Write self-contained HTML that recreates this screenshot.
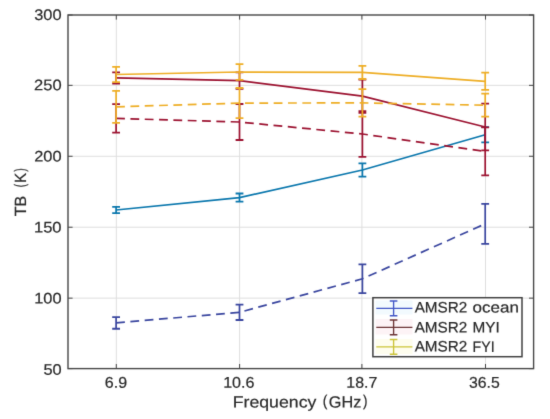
<!DOCTYPE html><html><head><meta charset="utf-8"><style>html,body{margin:0;padding:0;background:#fff;}svg{display:block;}text{font-family:"Liberation Sans",sans-serif;fill:#2a2a2a;stroke:#2a2a2a;stroke-width:0.2;}</style></head><body>
<svg width="550" height="419" viewBox="0 0 550 419" text-rendering="geometricPrecision">
<defs><filter id="soft" filterUnits="userSpaceOnUse" x="0" y="0" width="550" height="419" color-interpolation-filters="sRGB"><feConvolveMatrix order="3" kernelMatrix="0.0100 0.0800 0.0100 0.0800 0.6400 0.0800 0.0100 0.0800 0.0100" edgeMode="duplicate"/></filter></defs><g filter="url(#soft)">
<rect width="550" height="419" fill="#fff"/>
<path d="M116.30 15.00V368.60M239.60 15.00V368.60M361.90 15.00V368.60M485.50 15.00V368.60M68.00 298.15H533.60M68.00 227.22H533.60M68.00 156.28H533.60M68.00 85.35H533.60" stroke="#dedede" stroke-width="1" fill="none"/>
<polyline points="116.10,210.00 239.50,197.60 362.40,170.00 485.20,134.80" stroke="#0a77ad" stroke-width="1.70" fill="none"/>
<path d="M116.10 206.80V213.20M239.50 193.50V201.70M362.40 163.30V176.70M485.20 127.20V142.40" stroke="#0a77ad" stroke-width="1.70" fill="none"/>
<path d="M112.20 206.80H120.00M112.20 213.20H120.00M235.60 193.50H243.40M235.60 201.70H243.40M358.50 163.30H366.30M358.50 176.70H366.30M481.30 127.20H489.10M481.30 142.40H489.10" stroke="#0a77ad" stroke-width="1.80" fill="none"/>
<polyline points="116.10,77.90 239.50,80.60 362.40,96.20 485.20,127.00" stroke="#9c1230" stroke-width="1.70" fill="none"/>
<path d="M116.10 72.30V83.50M239.50 72.40V88.80M362.40 79.60V112.80M485.20 103.70V150.30" stroke="#9c1230" stroke-width="1.70" fill="none"/>
<path d="M112.20 72.30H120.00M112.20 83.50H120.00M235.60 72.40H243.40M235.60 88.80H243.40M358.50 79.60H366.30M358.50 112.80H366.30M481.30 103.70H489.10M481.30 150.30H489.10" stroke="#9c1230" stroke-width="1.80" fill="none"/>
<polyline points="116.10,74.50 239.50,72.00 362.40,72.40 485.20,81.30" stroke="#eeae26" stroke-width="1.70" fill="none"/>
<path d="M116.10 66.90V82.10M239.50 64.10V79.90M362.40 65.80V79.00M485.20 72.70V89.90" stroke="#eeae26" stroke-width="1.70" fill="none"/>
<path d="M112.20 66.90H120.00M112.20 82.10H120.00M235.60 64.10H243.40M235.60 79.90H243.40M358.50 65.80H366.30M358.50 79.00H366.30M481.30 72.70H489.10M481.30 89.90H489.10" stroke="#eeae26" stroke-width="1.80" fill="none"/>
<polyline points="116.10,322.90 239.50,312.30 362.40,278.80 485.20,223.80" stroke="#3a469f" stroke-width="1.70" fill="none" stroke-dasharray="8.8 5.53"/>
<path d="M116.10 317.05V328.75M239.50 304.60V320.00M362.40 264.40V293.20M485.20 203.80V243.80" stroke="#3a469f" stroke-width="1.70" fill="none"/>
<path d="M112.20 317.05H120.00M112.20 328.75H120.00M235.60 304.60H243.40M235.60 320.00H243.40M358.50 264.40H366.30M358.50 293.20H366.30M481.30 203.80H489.10M481.30 243.80H489.10" stroke="#3a469f" stroke-width="1.80" fill="none"/>
<polyline points="116.10,118.40 239.50,122.00 362.40,134.00 485.20,151.40" stroke="#9c1230" stroke-width="1.70" fill="none" stroke-dasharray="8.8 5.53"/>
<path d="M116.10 104.10V132.70M239.50 104.00V140.00M362.40 111.10V156.90M485.20 127.40V175.40" stroke="#9c1230" stroke-width="1.70" fill="none"/>
<path d="M112.20 104.10H120.00M112.20 132.70H120.00M235.60 104.00H243.40M235.60 140.00H243.40M358.50 111.10H366.30M358.50 156.90H366.30M481.30 127.40H489.10M481.30 175.40H489.10" stroke="#9c1230" stroke-width="1.80" fill="none"/>
<polyline points="116.10,106.80 239.50,103.10 362.40,102.90 485.20,105.20" stroke="#eeae26" stroke-width="1.70" fill="none" stroke-dasharray="8.8 5.53"/>
<path d="M116.10 90.80V122.80M239.50 88.00V118.20M362.40 89.20V116.60M485.20 93.70V116.70" stroke="#eeae26" stroke-width="1.70" fill="none"/>
<path d="M112.20 90.80H120.00M112.20 122.80H120.00M235.60 88.00H243.40M235.60 118.20H243.40M358.50 89.20H366.30M358.50 116.60H366.30M481.30 93.70H489.10M481.30 116.70H489.10" stroke="#eeae26" stroke-width="1.80" fill="none"/>
<path d="M116.30 368.60V364.00M116.30 15.00V19.60M239.60 368.60V364.00M239.60 15.00V19.60M361.90 368.60V364.00M361.90 15.00V19.60M485.50 368.60V364.00M485.50 15.00V19.60M68.00 368.60H72.60M533.60 368.60H529.00M68.00 298.15H72.60M533.60 298.15H529.00M68.00 227.22H72.60M533.60 227.22H529.00M68.00 156.28H72.60M533.60 156.28H529.00M68.00 85.35H72.60M533.60 85.35H529.00M68.00 15.00H72.60M533.60 15.00H529.00" stroke="#464646" stroke-width="1" fill="none"/>
<rect x="68.00" y="15.00" width="465.60" height="353.60" stroke="#464646" stroke-width="1.4" fill="none"/>
<text transform="translate(34.19 19.90) matrix(1 0.0005 0 1 0 0)" font-size="15.35" textLength="27.39" lengthAdjust="spacingAndGlyphs">300</text>
<text transform="translate(34.02 90.30) matrix(1 0.0005 0 1 0 0)" font-size="15.35" textLength="27.56" lengthAdjust="spacingAndGlyphs">250</text>
<text transform="translate(34.23 161.60) matrix(1 0.0005 0 1 0 0)" font-size="15.35" textLength="27.35" lengthAdjust="spacingAndGlyphs">200</text>
<text transform="translate(33.92 232.40) matrix(1 0.0005 0 1 0 0)" font-size="15.35" textLength="27.67" lengthAdjust="spacingAndGlyphs">150</text>
<text transform="translate(34.24 303.60) matrix(1 0.0005 0 1 0 0)" font-size="15.35" textLength="27.34" lengthAdjust="spacingAndGlyphs">100</text>
<text transform="translate(43.39 374.70) matrix(1 0.0005 0 1 0 0)" font-size="15.35" textLength="18.25" lengthAdjust="spacingAndGlyphs">50</text>
<text transform="translate(104.85 387.85) matrix(1 0.0005 0 1 0 0)" font-size="15.49" textLength="22.31" lengthAdjust="spacingAndGlyphs">6.9</text>
<text transform="translate(223.16 387.85) matrix(1 0.0005 0 1 0 0)" font-size="15.49" textLength="31.34" lengthAdjust="spacingAndGlyphs">10.6</text>
<text transform="translate(346.28 387.85) matrix(1 0.0005 0 1 0 0)" font-size="15.49" textLength="31.01" lengthAdjust="spacingAndGlyphs">18.7</text>
<text transform="translate(468.92 387.85) matrix(1 0.0005 0 1 0 0)" font-size="15.49" textLength="30.77" lengthAdjust="spacingAndGlyphs">36.5</text>
<text transform="translate(232.73 407.50) matrix(1 0.0005 0 1 0 0)" font-size="16.20" textLength="83.60" lengthAdjust="spacingAndGlyphs">Frequency</text>
<text transform="translate(322.82 406.40) matrix(1 0.0005 0 1 0 0)" font-size="15.48" textLength="4.61" lengthAdjust="spacingAndGlyphs">(</text>
<text transform="translate(328.74 407.50) matrix(1 0.0005 0 1 0 0)" font-size="16.20" textLength="32.53" lengthAdjust="spacingAndGlyphs">GHz</text>
<text transform="translate(362.92 406.40) matrix(1 0.0005 0 1 0 0)" font-size="15.48" textLength="4.48" lengthAdjust="spacingAndGlyphs">)</text>
<text transform="rotate(-90) translate(-216.37 25.95) matrix(1 0.0005 0 1 0 0)" font-size="16.20" textLength="20.55" lengthAdjust="spacingAndGlyphs">TB</text>
<text transform="rotate(-90) translate(-187.35 24.94) matrix(1 0.0005 0 1 0 0)" font-size="15.27" textLength="3.33" lengthAdjust="spacingAndGlyphs">(</text>
<text transform="rotate(-90) translate(-182.89 25.95) matrix(1 0.0005 0 1 0 0)" font-size="16.20" textLength="10.30" lengthAdjust="spacingAndGlyphs">K</text>
<text transform="rotate(-90) translate(-171.75 24.94) matrix(1 0.0005 0 1 0 0)" font-size="15.27" textLength="3.46" lengthAdjust="spacingAndGlyphs">)</text>
<rect x="372.90" y="297.70" width="149.10" height="59.00" fill="#fff" stroke="#404040" stroke-width="1.5"/>
<rect x="375.5" y="300.5" width="37" height="14" fill="#f2fafe"/><rect x="375.5" y="319" width="37" height="15.5" fill="#fdf3f6"/><rect x="375.5" y="339" width="37" height="15" fill="#fefdee"/>
<path d="M376.3 308.30H412.4M393.6 300.90V315.70" stroke="#4256c6" stroke-width="1.35" fill="none"/>
<path d="M389.8 300.90H397.4M389.8 315.70H397.4" stroke="#4256c6" stroke-width="1.50" fill="none"/>
<text transform="translate(414.65 312.45) matrix(1 0.0005 0 1 0 0)" font-size="15.20" textLength="52.69" lengthAdjust="spacingAndGlyphs">AMSR2</text>
<text transform="translate(472.57 312.45) matrix(1 0.0005 0 1 0 0)" font-size="15.20" textLength="46.38" lengthAdjust="spacingAndGlyphs">ocean</text>
<path d="M376.3 327.40H412.4M393.6 320.00V334.80" stroke="#6c3536" stroke-width="1.35" fill="none"/>
<path d="M389.8 320.00H397.4M389.8 334.80H397.4" stroke="#6c3536" stroke-width="1.50" fill="none"/>
<text transform="translate(414.65 332.45) matrix(1 0.0005 0 1 0 0)" font-size="15.20" textLength="52.69" lengthAdjust="spacingAndGlyphs">AMSR2</text>
<text transform="translate(472.42 332.45) matrix(1 0.0005 0 1 0 0)" font-size="15.20" textLength="27.28" lengthAdjust="spacingAndGlyphs">MYI</text>
<path d="M376.3 346.80H412.4M393.6 339.40V354.20" stroke="#cbc338" stroke-width="1.35" fill="none"/>
<path d="M389.8 339.40H397.4M389.8 354.20H397.4" stroke="#cbc338" stroke-width="1.50" fill="none"/>
<text transform="translate(414.65 351.50) matrix(1 0.0005 0 1 0 0)" font-size="15.20" textLength="52.69" lengthAdjust="spacingAndGlyphs">AMSR2</text>
<text transform="translate(472.51 351.50) matrix(1 0.0005 0 1 0 0)" font-size="15.20" textLength="22.10" lengthAdjust="spacingAndGlyphs">FYI</text>
</g></svg></body></html>
